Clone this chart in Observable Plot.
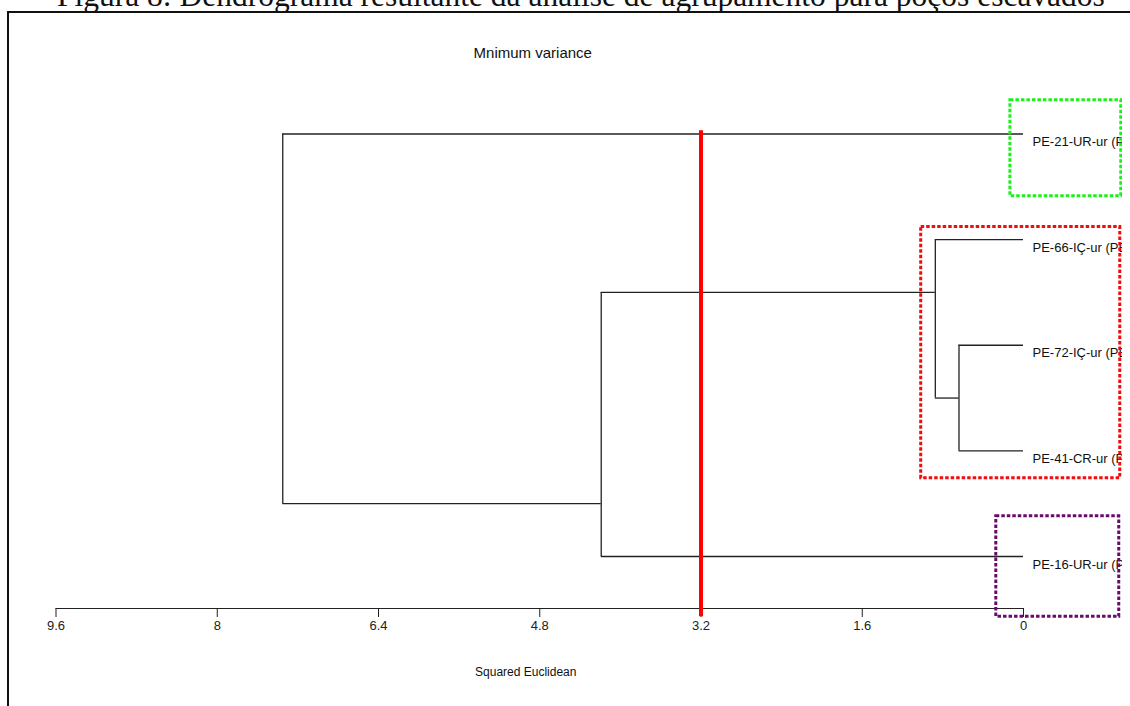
<!DOCTYPE html>
<html><head><meta charset="utf-8">
<script src="https://cdn.jsdelivr.net/npm/d3@7"></script>
<script src="https://cdn.jsdelivr.net/npm/@observablehq/plot@0.6"></script>
<style>
body{margin:0;background:#fff;}
#wrap{position:relative;width:1130px;height:706px;overflow:hidden;background:#fff;}
#title{position:absolute;left:57px;top:-20px;font-family:"Liberation Serif","Times New Roman",serif;font-size:31.5px;line-height:1;white-space:nowrap;color:#111;}
#border{position:absolute;left:7px;top:11px;width:1130px;height:706px;border-left:2px solid #111;border-top:2px solid #111;}
#chart{position:absolute;left:0;top:0;width:1130px;height:706px;clip-path:inset(0 8px 0 0);}
#chart svg{max-width:none !important;}
</style></head><body>
<div id="wrap">
<div id="title">Figura 8: Dendrograma resultante da análise de agrupamento para poços escavados</div>
<div id="border"></div>
<div id="chart"></div>
</div>
<script>
// Leaves (top to bottom)
const leaves = ["PE-21-UR-ur (PE)", "PE-66-IÇ-ur (PE)", "PE-72-IÇ-ur (PE)", "PE-41-CR-ur (PE)", "PE-16-UR-ur (PE)"];
// Merges (Minimum variance, squared Euclidean)
const mergeIds = ["A", "B", "C", "D"];
const mergeChildA = ["PE-72-IÇ-ur (PE)", "PE-66-IÇ-ur (PE)", "B", "PE-21-UR-ur (PE)"];
const mergeChildB = ["PE-41-CR-ur (PE)", "A", "PE-16-UR-ur (PE)", "C"];
const mergeHeight = [0.64, 0.875, 4.19, 7.35];
const mergeRow = [2.5, 1.5, 3.5, null];
// Axis ticks
const xTicks = [9.6, 8, 6.4, 4.8, 3.2, 1.6, 0];
const xDomain = [9.6, 0];
// Cut line
const cutDistance = 3.2;
const cutRows = [-0.03, 4.57];
// Cluster boxes
const clusterColor = ["#1af01a", "#f20d0d", "#6a0a6a"];
const clusterX1 = [0.13, 1.015, 0.27];
const clusterX2 = [-0.97, -0.96, -0.95];
const clusterY1 = [-0.32, 0.88, 3.62];
const clusterY2 = [0.59, 3.26, 4.57];

const H = new Map(), R = new Map();
leaves.forEach((n, i) => { H.set(n, 0); R.set(n, i); });
mergeIds.forEach((id, i) => { H.set(id, mergeHeight[i]); R.set(id, mergeRow[i]); });

const verts = mergeIds.map((id, i) => ({h: mergeHeight[i], y1: R.get(mergeChildA[i]), y2: R.get(mergeChildB[i])}));
const horiz = [];
mergeIds.forEach((id, i) => {
  [mergeChildA[i], mergeChildB[i]].forEach(c => horiz.push({y: R.get(c), h1: H.get(c), h2: mergeHeight[i]}));
});
const leafData = leaves.map((n, i) => ({name: n, y: i, h: 0}));
const boxes = clusterColor.map((c, i) => ({color: c, x1: clusterX1[i], x2: clusterX2[i], y1: clusterY1[i], y2: clusterY2[i]}));

const font = "'Liberation Sans', Arial, sans-serif";
const chart = Plot.plot({
  width: 1130, height: 706,
  marginLeft: 55.5, marginRight: 107, marginTop: 40, marginBottom: 98,
  style: {fontFamily: font, fontSize: "13px", color: "#222", background: "transparent", maxWidth: "none"},
  x: {domain: xDomain, range: [55.5, 1023], ticks: xTicks, tickFormat: d => String(d), tickSize: 9, tickPadding: 3, line: true, label: null},
  y: {domain: [0, 4], range: [133.5, 556], axis: null},
  marks: [
    Plot.ruleY(horiz, {y: "y", x1: "h1", x2: "h2", stroke: "#222", strokeWidth: 1.3}),
    Plot.ruleX(verts, {x: "h", y1: "y1", y2: "y2", stroke: "#222", strokeWidth: 1.3}),
    Plot.ruleX([cutDistance], {x: d => d, y1: cutRows[0], y2: cutRows[1], stroke: "#ff0000", strokeWidth: 4}),
    Plot.text(leafData, {x: "h", y: "y", text: "name", textAnchor: "start", dx: 9, dy: 8, fontSize: 13, fill: "#111", letterSpacing: "-0.3px"}),
    ...boxes.map(b => Plot.rect([b], {x1: "x1", x2: "x2", y1: "y1", y2: "y2", fill: "none", stroke: b.color, strokeWidth: 3, strokeDasharray: "3.5,2"})),
    Plot.text(["Mnimum variance"], {frameAnchor: "top", lineAnchor: "middle", dx: -7, dy: 13, fontSize: 15, fill: "#111", letterSpacing: "-0.5px"}),
    Plot.text(["Squared Euclidean"], {frameAnchor: "bottom", lineAnchor: "middle", dx: -14, dy: 64, fontSize: 12, fill: "#111", letterSpacing: "-0.3px"})
  ]
});
chart.style.maxWidth = "none";
document.getElementById("chart").appendChild(chart);
</script>
</body></html>
